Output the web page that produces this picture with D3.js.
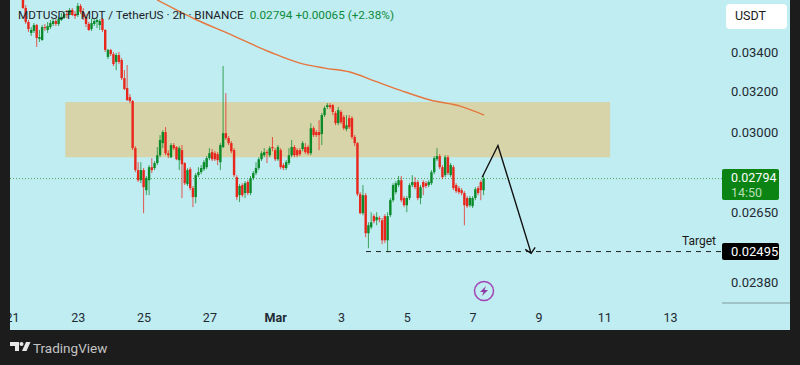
<!DOCTYPE html>
<html>
<head>
<meta charset="utf-8">
<script src="https://cdn.jsdelivr.net/npm/d3@7"></script>
<style>
  html, body { margin: 0; padding: 0; background: #1c1c1c; }
  svg { display: block; }
  text { font-family: Roboto, sans-serif; }
</style>
</head>
<body>
<div id="chart"></div>
<script>
// candles, one every 2 hours, first one on 21 Feb 08:00 (days run on past 29 for March)
const firstDay = 21 + 8 / 24;

const opens = [.03732,.0364,.03562,.03502,.03513,.03545,.0347,.03464,.03534,.03518,.03534,.03551,.03567,.03551,.03573,.03584,.03606,.03601,.03629,.03606,.03601,.03652,.03618,.0359,.03551,.03523,.03551,.03562,.03545,.03579,.03518,.03374,.03411,.03389,.03348,.03384,.03358,.03265,.03215,.0317,.03151,.02929,.02831,.02787,.02831,.02744,.02787,.02844,.0284,.02862,.02897,.02952,.03003,.02906,.02888,.02943,.02934,.02875,.0292,.02862,.0277,.02835,.02753,.02715,.02809,.02822,.02835,.02844,.02884,.02911,.02906,.02902,.02866,.02934,.02998,.02975,.02952,.0292,.028,.02723,.02766,.02732,.02779,.02732,.02796,.02818,.0284,.02879,.02897,.02911,.02897,.02934,.0292,.02879,.0292,.02853,.0284,.02862,.02897,.02934,.0292,.0292,.02925,.02934,.02934,.02906,.03021,.03003,.03003,.02994,.03083,.03122,.03131,.03131,.03093,.03045,.03098,.03074,.03017,.03069,.03069,.0298,.02952,.02727,.02648,.02723,.02567,.02591,.02636,.02619,.02628,.02619,.02636,.02539,.0264,.02702,.02736,.02766,.02787,.02711,.02681,.02711,.02766,.02779,.02779,.02711,.02779,.02774,.02766,.02774,.02822,.02879,.02893,.02844,.02809,.02888,.02809,.02844,.02766,.02753,.02744,.02732,.02711,.02681,.02677,.02711,.02753,.02779,.02744];
const highs = [.03744,.03657,.03573,.03534,.03556,.03551,.03518,.03545,.03551,.03562,.03573,.03579,.03579,.0359,.03612,.03623,.03629,.0364,.0364,.03623,.03669,.03663,.0364,.03606,.03562,.03579,.03579,.03584,.03579,.03584,.03523,.03416,.03416,.034,.03395,.034,.03368,.03306,.03332,.03185,.03156,.02938,.02866,.02866,.0284,.02805,.02853,.02884,.02871,.02934,.02989,.03012,.03026,.0292,.02952,.02952,.02938,.02938,.02943,.02866,.0284,.02844,.02762,.02818,.02844,.02853,.02875,.02893,.02929,.02925,.02915,.02911,.02952,.03327,.0319,.02984,.02961,.02929,.02809,.0277,.02774,.02783,.02787,.02805,.02827,.02866,.02888,.02915,.02929,.0292,.02938,.0298,.02929,.02943,.02929,.02862,.02875,.02929,.02966,.02943,.02929,.02929,.02961,.02952,.02943,.03045,.0303,.03012,.03059,.03093,.03126,.03141,.03141,.03136,.03102,.03122,.03107,.03083,.03083,.03083,.03078,.02989,.02957,.02736,.02766,.02732,.02611,.02652,.02644,.02652,.02636,.02628,.02644,.02652,.02711,.02774,.02783,.02805,.02805,.02719,.02719,.02774,.02809,.028,.02787,.02766,.02787,.02783,.02787,.02831,.02893,.02929,.02902,.02853,.02897,.02897,.02862,.02853,.02774,.02762,.02753,.0274,.02719,.02719,.02719,.02757,.02762,.02787,.02809];
const lows = [.03635,.03551,.03507,.03486,.03502,.03427,.03453,.03459,.03513,.03502,.03523,.0354,.0354,.0354,.03567,.03579,.03584,.03601,.03595,.03579,.0359,.03606,.03573,.03534,.03513,.03513,.0354,.03529,.03518,.03507,.034,.03363,.03379,.03327,.03306,.03337,.03255,.03205,.03151,.03141,.0292,.02822,.02779,.02774,.02648,.02723,.02723,.02818,.02831,.02853,.02888,.02929,.02897,.02884,.02884,.0292,.02875,.02831,.02711,.02766,.02762,.02744,.02673,.02689,.028,.02813,.02827,.02835,.02875,.02871,.02871,.02853,.02831,.02929,.02966,.02943,.02906,.028,.02702,.02694,.02715,.02711,.02723,.02723,.02787,.02809,.02831,.02871,.02888,.02862,.02888,.02915,.02871,.02871,.02835,.02831,.02831,.02853,.02888,.02888,.02888,.02893,.02915,.02902,.02897,.02897,.0298,.0298,.0292,.02943,.03074,.03112,.03112,.03083,.03035,.03035,.0304,.03012,.03007,.03017,.02971,.02938,.02719,.02644,.0264,.02551,.02508,.02583,.02607,.02599,.02611,.02524,.02528,.02492,.02632,.02694,.02727,.02757,.02694,.02673,.02652,.02702,.02757,.02748,.02702,.02685,.02723,.02753,.02757,.02766,.02813,.02871,.02835,.02791,.028,.02809,.028,.02744,.02732,.02727,.02723,.02599,.02669,.02673,.02669,.02702,.02723,.02702,.02723];
const closes = [.0364,.03562,.03523,.03518,.03545,.03475,.0348,.03534,.03529,.0354,.03556,.03567,.03551,.03579,.0359,.03606,.03601,.03629,.03601,.03595,.03652,.03618,.0359,.03551,.03518,.03556,.03567,.03573,.03567,.03518,.03411,.03411,.03389,.03337,.03384,.03348,.03265,.0321,.03156,.03151,.02929,.02831,.02787,.02831,.02757,.02796,.02844,.02831,.02862,.02897,.02966,.03003,.02906,.02897,.02943,.02929,.02879,.02929,.02857,.02774,.02831,.02753,.02715,.02809,.02822,.0284,.02866,.02884,.02906,.02879,.02879,.02875,.02943,.02998,.02975,.02952,.02915,.02809,.02715,.02762,.02723,.02774,.02732,.02796,.02818,.0284,.02879,.02906,.02911,.02906,.02929,.02929,.02879,.02934,.02844,.0284,.02866,.02897,.02934,.02897,.02897,.02902,.02952,.02911,.02906,.03021,.02989,.02989,.02989,.03083,.03117,.03131,.03122,.03098,.03045,.03107,.03049,.03021,.03035,.03026,.0298,.02952,.02727,.02648,.02723,.02567,.02599,.02611,.02615,.02632,.02623,.02539,.02539,.02636,.02702,.02766,.02774,.02787,.02702,.02681,.02711,.02766,.02779,.02757,.02711,.02757,.02757,.02762,.02779,.02822,.02884,.02893,.02844,.028,.02888,.02818,.02853,.02753,.0274,.02736,.02732,.02681,.02677,.02711,.02711,.02748,.02732,.02744,.02794];

// long moving average
const maDays = [25.41,26.62,27.53,28.84,29.75,30.51,31.27,32.03,32.79,33.71,34.62,35.35];
const maPrices = [.03686,.03573,.03502,.034,.03342,.03316,.03296,.0325,.03205,.03156,.03126,.03083];

// hand drawn path
const arrowDays = [35.29,35.77,36.78];
const arrowPrices = [.028,.02941,.02488];

const zoneDays = [22.62,39.18];
const zonePrices = [.03146,.02888];

const lastPrice = 0.02794;
const targetPrice = 0.02495;
const targetStartDay = 31.76;

const priceTicks = [0.034,0.032,0.03,0.0265,0.0238];
const dayTicks = [21,23,25,27,29,31,33,35,37,39,41];
const dayLabels = ["21","23","25","27","Mar","3","5","7","9","11","13"];

const width = 800, height = 365;
const bg = "#c0edf1", dark = "#1c1c1c";
const red = "#e9261b", green = "#0b8a2a";

const x = d3.scaleLinear().domain([21,41]).range([12,670]);
const y = d3.scaleLog().domain([0.034,0.0238]).range([52,282]);

const svg = d3.select("#chart").append("svg")
    .attr("width", width)
    .attr("height", height);

svg.append("rect").attr("width", width).attr("height", height).attr("fill", dark);
svg.append("rect").attr("x", 10).attr("y", 0).attr("width", 780).attr("height", 330).attr("fill", bg);

svg.append("defs").append("clipPath").attr("id", "plot")
    .append("rect").attr("x", 10).attr("y", 0).attr("width", 712).attr("height", 330);

const plot = svg.append("g").attr("clip-path", "url(#plot)");

// supply zone
plot.append("rect")
    .attr("x", x(zoneDays[0]))
    .attr("y", y(zonePrices[0]))
    .attr("width", x(zoneDays[1]) - x(zoneDays[0]))
    .attr("height", y(zonePrices[1]) - y(zonePrices[0]))
    .attr("fill", "#d6d4a8");

// last price line
plot.append("line")
    .attr("x1", 10).attr("x2", 722)
    .attr("y1", y(lastPrice)).attr("y2", y(lastPrice))
    .attr("stroke", "#4aa85a")
    .attr("stroke-dasharray", "1,2");

// moving average
plot.append("path")
    .datum(d3.zip(maDays, maPrices))
    .attr("d", d3.line().x(d => x(d[0])).y(d => y(d[1])).curve(d3.curveMonotoneX))
    .attr("fill", "none")
    .attr("stroke", "#e5763d")
    .attr("stroke-width", 1.4);

// candles
const candles = d3.range(closes.length).map(i => ({
    day: firstDay + i / 12, o: opens[i], h: highs[i], l: lows[i], c: closes[i]
}));

const candle = plot.selectAll(".candle").data(candles).join("g").attr("class", "candle");

candle.append("line")
    .attr("x1", d => x(d.day)).attr("x2", d => x(d.day))
    .attr("y1", d => y(d.h)).attr("y2", d => y(d.l))
    .attr("stroke", d => d.c >= d.o ? green : red)
    .attr("stroke-opacity", 0.75)
    .attr("stroke-width", 1);

candle.append("rect")
    .attr("x", d => x(d.day) - 1.2)
    .attr("width", 2.4)
    .attr("y", d => y(Math.max(d.o, d.c)))
    .attr("height", d => Math.max(1, Math.abs(y(d.o) - y(d.c))))
    .attr("fill", d => d.c >= d.o ? green : red);

// target line
plot.append("line")
    .attr("x1", x(targetStartDay)).attr("x2", 722)
    .attr("y1", y(targetPrice)).attr("y2", y(targetPrice))
    .attr("stroke", "#222")
    .attr("stroke-dasharray", "5,5");

plot.append("text")
    .attr("x", 716).attr("y", 245)
    .attr("text-anchor", "end")
    .attr("font-size", 12)
    .attr("fill", "#1a1a1a")
    .text("Target");

// projection arrow
const tip = [x(arrowDays[2]), y(arrowPrices[2])];
plot.append("path")
    .datum(d3.zip(arrowDays, arrowPrices))
    .attr("d", d3.line().x(d => x(d[0])).y(d => y(d[1])))
    .attr("fill", "none")
    .attr("stroke", "#111")
    .attr("stroke-width", 1.4);
plot.append("path")
    .attr("d", `M${tip[0] - 6},${tip[1] - 4}L${tip[0]},${tip[1]}L${tip[0] + 4},${tip[1] - 6}`)
    .attr("fill", "none")
    .attr("stroke", "#111")
    .attr("stroke-width", 1.4);

// lightning badge
const badge = svg.append("g").attr("transform", "translate(484,291)");
badge.append("circle").attr("r", 9.5).attr("fill", "none").attr("stroke", "#a045b5").attr("stroke-width", 1.5);
badge.append("path").attr("d", "M2,-5L-4,1L-0.5,1L-2,5L4,-1L0.5,-1Z").attr("fill", "#8e3aa6");

// price axis
const yAxis = svg.append("g")
    .attr("transform", "translate(731,0)")
    .call(d3.axisRight(y).tickValues(priceTicks).tickFormat(d3.format(".5f")).tickSize(0).tickPadding(0));
yAxis.select(".domain").remove();
yAxis.selectAll("text").attr("font-size", 13).attr("font-family", "Roboto").attr("fill", "#1f2a33");

// time axis
const xAxis = svg.append("g")
    .attr("transform", "translate(0,309)")
    .call(d3.axisBottom(x).tickValues(dayTicks).tickFormat((d, i) => dayLabels[i]).tickSize(0).tickPadding(4));
xAxis.select(".domain").remove();
xAxis.selectAll("text")
    .attr("font-size", 12.5)
    .attr("font-family", "Roboto")
    .attr("fill", "#1f2a33")
    .attr("font-weight", (d, i) => dayLabels[i] === "Mar" ? 700 : 400);

svg.append("line")
    .attr("x1", 722).attr("x2", 790)
    .attr("y1", 303).attr("y2", 303)
    .attr("stroke", "#7f9a9e");

// left frame covers the clipped 21 label
svg.append("rect").attr("x", 0).attr("y", 0).attr("width", 10).attr("height", 330).attr("fill", dark);

// header
const header = svg.append("text").attr("x", 18).attr("y", 19).attr("font-size", 11.75);
header.append("tspan").attr("fill", "#1b2228").text("MDTUSDT · MDT / TetherUS · 2h · BINANCE");
header.append("tspan").attr("dx", 6).attr("fill", "#0d8a3a").text("0.02794 +0.00065 (+2.38%)");

// unit button
svg.append("rect").attr("x", 726).attr("y", 4).attr("width", 61).attr("height", 25).attr("rx", 4).attr("fill", "#fff");
svg.append("text").attr("x", 735).attr("y", 20).attr("font-size", 12.5).attr("fill", "#1a1a1a").text("USDT");

// last price tag
svg.append("rect").attr("x", 722).attr("y", 169).attr("width", 57).attr("height", 31).attr("rx", 2).attr("fill", "#0c8414");
svg.append("text").attr("x", 731).attr("y", 182).attr("font-size", 12.5).attr("fill", "#fff").text(d3.format(".5f")(lastPrice));
svg.append("text").attr("x", 731).attr("y", 197).attr("font-size", 12.5).attr("fill", "#b5dfb5").text("14:50");

// target tag
svg.append("rect").attr("x", 722).attr("y", 243).attr("width", 57).attr("height", 17).attr("rx", 2).attr("fill", "#000");
svg.append("text").attr("x", 731).attr("y", 256).attr("font-size", 13).attr("fill", "#fff").text(d3.format(".5f")(targetPrice));

// footer logo
const logo = svg.append("g").attr("transform", "translate(10,342)").attr("fill", "#e8e8e8");
logo.append("path").attr("d", "M0,0H9V9H5V4H0Z");
logo.append("circle").attr("cx", 11.5).attr("cy", 2).attr("r", 2);
logo.append("path").attr("d", "M16,0H20.5L16.5,9H12Z");
svg.append("text").attr("x", 33).attr("y", 353).attr("font-size", 13.5).attr("fill", "#c4c4c4").text("TradingView");
</script>
</body>
</html>
